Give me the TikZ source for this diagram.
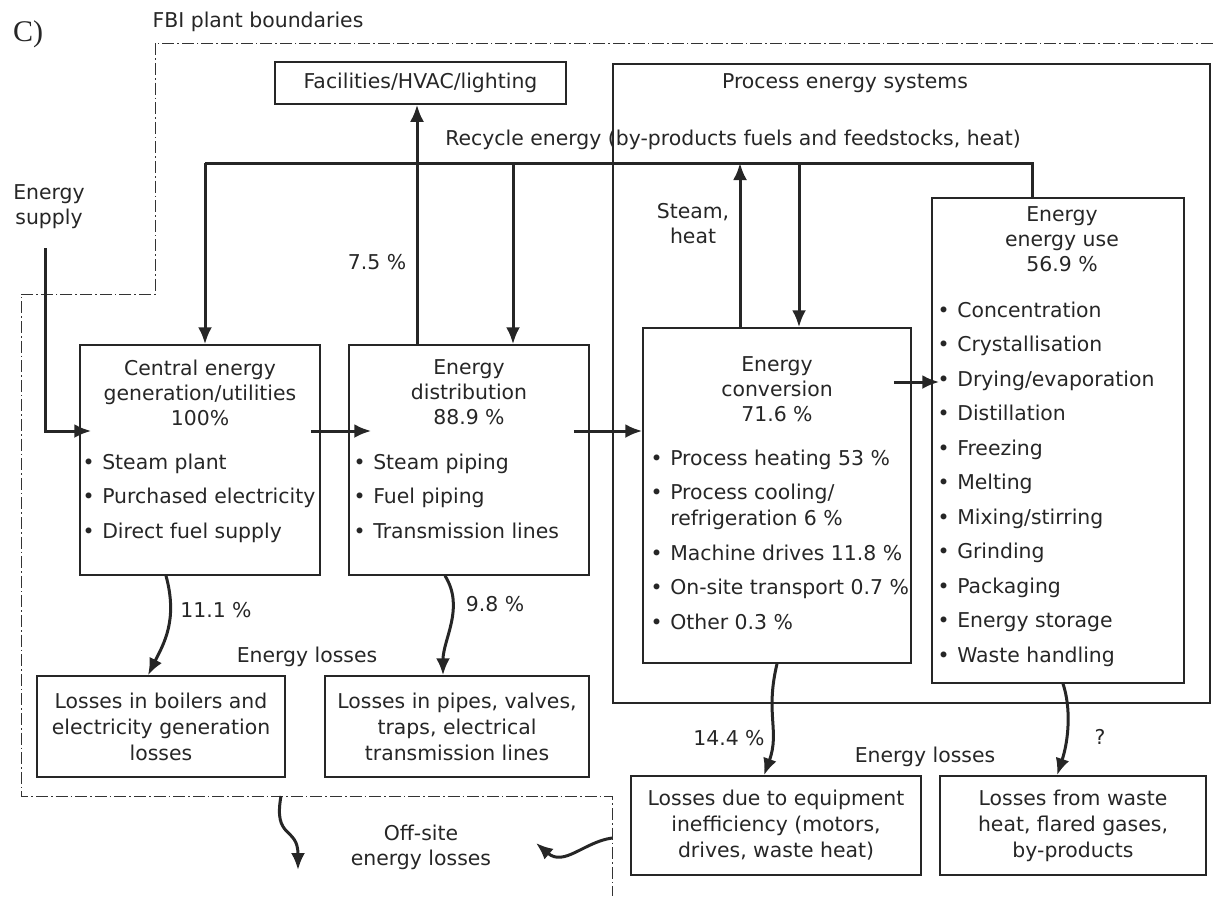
\documentclass[tikz,border=0pt]{standalone}
\usepackage{fontspec}
\usetikzlibrary{arrows.meta}
\newfontfamily\lblfont{DejaVu Sans}
\newfontfamily\tagfont{Liberation Serif}
\newcommand{\bul}{\textbullet\hspace{3.8pt}}
\newcommand{\bulgap}{\hphantom{\textbullet\hspace{3.8pt}}}
\begin{document}
\begin{tikzpicture}[x=0.5pt, y=-0.5pt,
  every node/.style={font=\lblfont\fontsize{10.2}{12.5}\selectfont, text=black!85},
  box/.style={draw=black!85, line width=0.75pt, inner sep=0pt},
  lossbox/.style={box, align=center, font=\lblfont\fontsize{10.2}{13}\selectfont},
  ttl/.style={align=center, inner sep=0pt, anchor=north},
  lst/.style={align=left, inner sep=0pt, anchor=north west},
  line/.style={line width=1.5pt, draw=black!85},
  flow/.style={line, -{Latex[length=8.5pt,width=7pt]}},
  bound/.style={line width=0.5pt, draw=black!80, dash pattern=on 6pt off 1.5pt on 0.8pt off 1.5pt}]
\useasboundingbox (0,0) rectangle (1213,896);

% plant boundary
\node[font=\tagfont\fontsize{15}{17}\selectfont] (tag) at (28,34) {C)};
\node (fbi) at (258,22) {FBI plant boundaries};
\draw[bound] (1213,43) -- (155,43) -- (155,294) -- (21,294) -- (21,796) -- (612,796) -- (612,896);

% boxes
\node[box, minimum width=145.5pt, minimum height=21pt] (fac) at (420.5,83) {Facilities/HVAC/lighting};
\node[box, minimum width=298.5pt, minimum height=319.5pt] (proc) at (911.5,383.5) {};
\node (procT) at (845,83) {Process energy systems};
\node[box, minimum width=120pt, minimum height=115pt] (central) at (200,460) {};
\node[box, minimum width=120pt, minimum height=115pt] (dist) at (469,460) {};
\node[box, minimum width=134pt, minimum height=167.5pt] (conv) at (777,495.5) {};
\node[box, minimum width=126pt, minimum height=242.5pt] (use) at (1058,440.5) {};

% box texts
\node[ttl] (centralT) at ([yshift=-7.5pt]central.north) {Central energy\\generation/utilities\\100\%};
\node[lst] (centralL) at ([xshift=1.5pt,yshift=-54.5pt]central.north west) {\bul Steam plant\\[4.75pt]\bul Purchased electricity\\[4.75pt]\bul Direct fuel supply};
\node[ttl] (distT) at ([yshift=-7.5pt]dist.north) {Energy\\distribution\\88.9 \%};
\node[lst] (distL) at ([xshift=2.5pt,yshift=-54.5pt]dist.north west) {\bul Steam piping\\[4.75pt]\bul Fuel piping\\[4.75pt]\bul Transmission lines};
\node[ttl] (convT) at ([yshift=-14.5pt]conv.north) {Energy\\conversion\\71.6 \%};
\node[lst] (convL) at ([xshift=4pt,yshift=-61pt]conv.north west) {\bul Process heating 53 \%\\[4.75pt]\bul Process cooling/\\[0.5pt]\bulgap refrigeration 6 \%\\[4.75pt]\bul Machine drives 11.8 \%\\[4.75pt]\bul On-site transport 0.7 \%\\[4.75pt]\bul Other 0.3 \%};
\node[ttl] (useT) at ([xshift=2pt,yshift=-4.5pt]use.north) {Energy\\energy use\\56.9 \%};
\node[lst] (useL) at ([xshift=3pt,yshift=-52pt]use.north west) {\bul Concentration\\[4.75pt]\bul Crystallisation\\[4.75pt]\bul Drying/evaporation\\[4.75pt]\bul Distillation\\[4.75pt]\bul Freezing\\[4.75pt]\bul Melting\\[4.75pt]\bul Mixing/stirring\\[4.75pt]\bul Grinding\\[4.75pt]\bul Packaging\\[4.75pt]\bul Energy storage\\[4.75pt]\bul Waste handling};

% loss boxes
\node[lossbox, minimum width=124pt, minimum height=50.5pt] (lossA) at (161,726.5) {Losses in boilers and\\electricity generation\\losses};
\node[lossbox, minimum width=132pt, minimum height=50.5pt] (lossB) at (457,726.5) {Losses in pipes, valves,\\traps, electrical\\transmission lines};
\node[lossbox, minimum width=145pt, minimum height=49.5pt] (lossC) at (776,825.5) {Losses due to equipment\\inefficiency (motors,\\drives, waste heat)};
\node[lossbox, minimum width=133pt, minimum height=49.5pt] (lossD) at (1073,825.5) {Losses from waste\\heat, flared gases,\\by-products};

% labels
\node[align=center] (supply) at (49,207) {Energy\\supply};
\node (recyT) at (733,140) {Recycle energy (by-products fuels and feedstocks, heat)};
\node (facP) at (377,262) {7.5 \%};
\node[align=center] (steam) at (693,224) {Steam,\\heat};
\node (pctA) at (216,610) {11.1 \%};
\node (pctB) at (495,604) {9.8 \%};
\node (lossL) at (307,657) {Energy losses};
\node (pctC) at (729,738) {14.4 \%};
\node (pctD) at (1100,737) {?};
\node (lossR) at (925,757) {Energy losses};
\node[align=center] (offsite) at (421,847) {Off-site\\energy losses};

% recycle loop
\coordinate (rcL) at (205,163);
\coordinate (rcR) at (1032,163);
\draw[line] (rcL) -- (rcR) -- (rcR |- use.north);
\draw[flow] (rcL) -- (rcL |- central.north);
\draw[flow] ([xshift=22pt]dist.north |- rcL) -- ([xshift=22pt]dist.north);
\draw[flow] ([xshift=-26pt]dist.north) -- ([xshift=-26pt]dist.north |- fac.south);
\draw[flow] ([xshift=-18.5pt]conv.north) -- ([xshift=-18.5pt]conv.north |- rcL);
\draw[flow] ([xshift=11pt]conv.north |- rcL) -- ([xshift=11pt]conv.north);

% main flow
\draw[flow] ([xshift=-2pt,yshift=-6pt]supply.south) |- ([xshift=6pt,yshift=14.5pt]central.west);
\draw[flow] ([xshift=-5pt,yshift=14.5pt]central.east) -- ([xshift=11.5pt,yshift=14.5pt]dist.west);
\draw[flow] ([xshift=-8pt,yshift=14.5pt]dist.east) -- ([yshift=14.5pt]dist.east -| conv.west);
\draw[flow] ([xshift=-9pt,yshift=56.75pt]conv.east) -- ([xshift=4pt,yshift=56.75pt]conv.east -| use.west);

% losses
\draw[flow] ([xshift=-17pt]central.south) .. controls +(6pt,-22pt) and +(8pt,16pt) .. ([xshift=-6.5pt]lossA.north);
\draw[flow] ([xshift=-12pt]dist.south) .. controls +(10pt,-16pt) and +(0pt,18pt) .. ([xshift=-7pt]lossB.north);
\draw[flow] (conv.south) .. controls +(-6pt,-25pt) and +(8pt,22pt) .. ([xshift=-6pt]lossC.north);
\draw[flow] ([xshift=2.5pt]use.south) .. controls +(4pt,-12pt) and +(6pt,18pt) .. ([xshift=-8pt]lossD.north);

% off-site losses
\coordinate (offA) at (281,796);
\coordinate (offAtip) at (298,870);
\coordinate (offB) at (612,838);
\coordinate (offBtip) at (536,843);
\draw[flow] (offA) .. controls +(-4pt,-22pt) and +(0pt,22pt) .. (offAtip);
\draw[flow] (offB) .. controls +(-14pt,-2pt) and +(14pt,-12pt) .. (offBtip);
\end{tikzpicture}
\end{document}
